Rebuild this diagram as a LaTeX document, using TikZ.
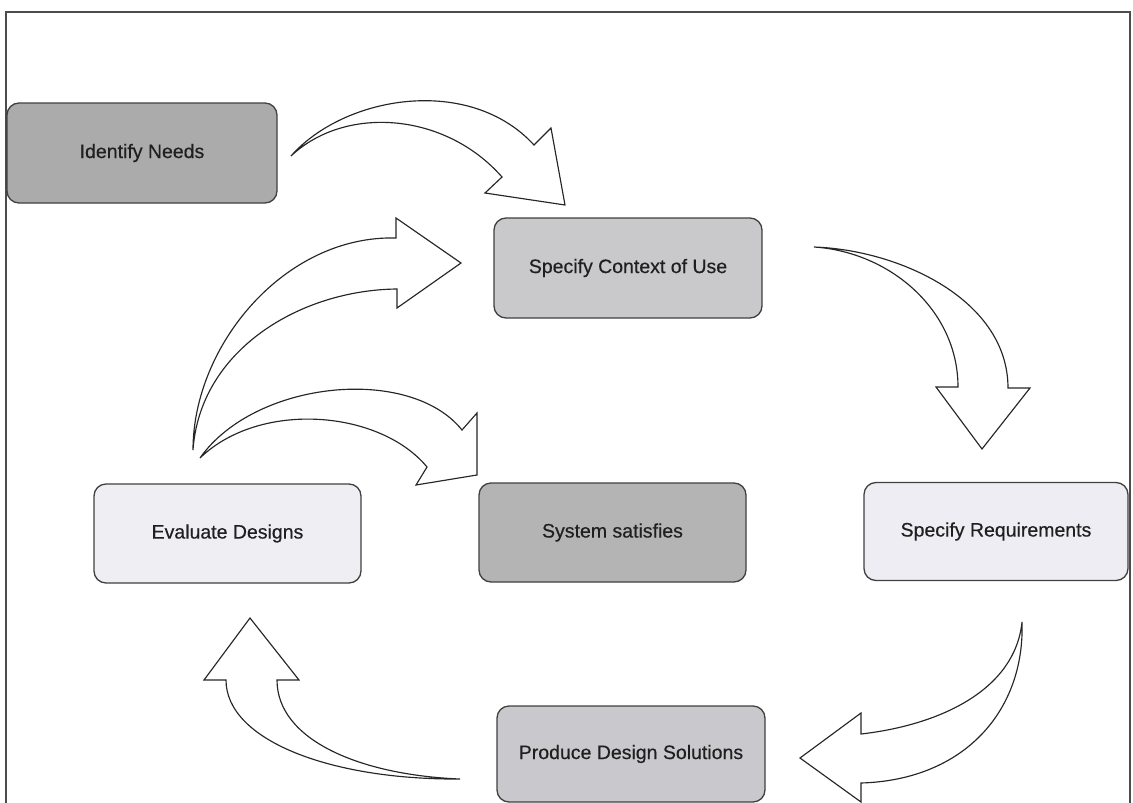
\documentclass[tikz,border=0pt]{standalone}
\usepackage{fontspec}
\setmainfont{Liberation Sans}
\newfontfamily\stepfont{Liberation Sans}[FakeBold=0.4]
\begin{document}
\begin{tikzpicture}[x=1pt,y=-1pt,
  box/.style={draw=black!75, line width=1.3pt, rounded corners=12pt, inner sep=0pt,
    font=\stepfont\fontsize{19.5}{23}\selectfont, text=black!88},
  blockarrow/.style={draw=black!85, fill=white, line width=1.15pt, line join=miter},
  frameline/.style={draw=black!70, line width=1.4pt}]
\useasboundingbox (0,0) rectangle (1133,803);
\clip (0,0) rectangle (1133,803);

% outer frame (open at the bottom)
\draw[frameline] (6,810) -- (6,12) -- (1130,12) -- (1130,810);

% process steps
\node[box, fill={rgb,255:red,171;green,171;blue,171}, minimum width=270pt, minimum height=100pt]
  (needs) at (142,153) {Identify Needs};
\node[box, fill={rgb,255:red,201;green,201;blue,203}, minimum width=268pt, minimum height=100pt]
  (context) at (628,268) {Specify Context of Use};
\node[box, fill={rgb,255:red,238;green,238;blue,243}, minimum width=267pt, minimum height=99pt]
  (evaluate) at (227.5,533.5) {Evaluate Designs};
\node[box, fill={rgb,255:red,180;green,180;blue,181}, minimum width=267pt, minimum height=99pt]
  (satisfies) at (612.5,532.5) {System satisfies};
\node[box, fill={rgb,255:red,237;green,237;blue,243}, minimum width=264pt, minimum height=98pt]
  (requirements) at (996,531.5) {Specify Requirements};
\node[box, fill={rgb,255:red,201;green,201;blue,205}, minimum width=268pt, minimum height=96pt]
  (produce) at (631,754) {Produce Design Solutions};

% block arrow: Identify Needs -> Specify Context of Use
\draw[blockarrow] (291,156) .. controls (345,95) and (470,75) .. (534,145)
  -- (551,128) -- (565,205) -- (485,193) -- (502,177)
  .. controls (445,112) and (345,105) .. (291,156) -- cycle;

% block arrow: Specify Context of Use -> Specify Requirements
\draw[blockarrow] (814,247) .. controls (900,250) and (1008,300) .. (1008,388)
  -- (1030,388) -- (982,449) -- (936,387) -- (958,387)
  .. controls (958,310) and (890,252) .. (814,247) -- cycle;

% block arrow: Evaluate Designs -> Specify Context of Use
\draw[blockarrow] (193,450) .. controls (193,345) and (285,235) .. (396,238)
  -- (396,218) -- (461,263) -- (397,308) -- (397,289)
  .. controls (300,290) and (200,350) .. (193,450) -- cycle;

% block arrow: Evaluate Designs -> System satisfies
\draw[blockarrow] (200,458) .. controls (255,380) and (410,365) .. (462,430)
  -- (477,413) -- (477,475) -- (416,485) -- (427,467)
  .. controls (380,410) and (260,400) .. (200,458) -- cycle;

% block arrow: Specify Requirements -> Produce Design Solutions
\draw[blockarrow] (1022,622) .. controls (1025,710) and (965,780) .. (861,783)
  -- (861,802) -- (800,758) -- (861,713) -- (861,734)
  .. controls (940,725) and (1015,690) .. (1022,622) -- cycle;

% block arrow: Produce Design Solutions -> Evaluate Designs
\draw[blockarrow] (460,779) .. controls (330,780) and (226,740) .. (226,680)
  -- (204,680) -- (250,618) -- (299,680) -- (277,680)
  .. controls (277,740) and (360,775) .. (460,779) -- cycle;
\end{tikzpicture}
\end{document}
